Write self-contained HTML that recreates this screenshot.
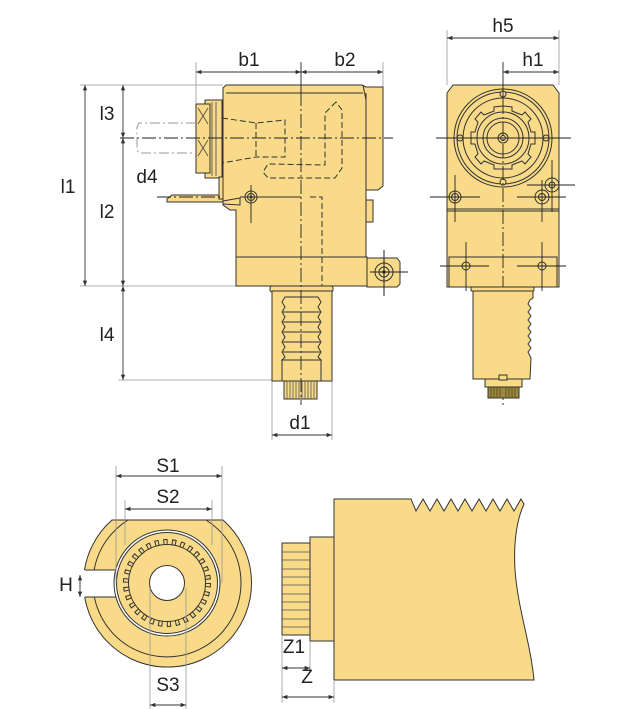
<!DOCTYPE html>
<html><head><meta charset="utf-8"><style>
html,body{margin:0;padding:0;background:#fff;width:634px;height:709px;overflow:hidden}
svg{display:block}
text{font-family:"Liberation Sans",sans-serif;font-size:19px;fill:#222;text-anchor:middle}
</style></head><body>
<svg width="634" height="709" viewBox="0 0 634 709" xmlns="http://www.w3.org/2000/svg">
<defs>
<marker id="a" viewBox="0 0 10 10" refX="10" refY="5" markerWidth="9" markerHeight="6" orient="auto-start-reverse"><path d="M0,1 L10,5 L0,9 z" fill="#333"/></marker>
</defs>
<g stroke="#333" stroke-width="1" fill="#F8DA88">

<!-- ============ SIDE VIEW ============ -->
<g stroke="#999" stroke-width="0.8" fill="none">
<line x1="80" y1="85" x2="223" y2="85"/>
<line x1="80" y1="286" x2="236" y2="286"/>
<line x1="118" y1="380" x2="272" y2="380"/>
<line x1="196" y1="62" x2="196" y2="103"/>
<line x1="383" y1="62" x2="383" y2="92"/>
<line x1="272" y1="380" x2="272" y2="440"/>
<line x1="332" y1="380" x2="332" y2="440"/>
</g>
<g stroke="#333" stroke-width="0.9" fill="none" marker-start="url(#a)" marker-end="url(#a)">
<line x1="196" y1="72" x2="301" y2="72"/>
<line x1="301" y1="72" x2="383" y2="72"/>
<line x1="85" y1="85" x2="85" y2="286"/>
<line x1="123" y1="85" x2="123" y2="138"/>
<line x1="123" y1="138" x2="123" y2="286"/>
<line x1="123" y1="286" x2="123" y2="380"/>
<line x1="272" y1="435" x2="332" y2="435"/>
</g>

<path d="M223,88 L226,85 L362,85 L366,87 L383,87 L383,186 L378,190 L366,190 L366,257 L236,257 L236,210 L230,210 L223,205 Z"/>
<line x1="226" y1="93" x2="363" y2="93"/>
<line x1="366" y1="93" x2="366" y2="190"/>
<line x1="363" y1="85" x2="366" y2="100"/>
<rect x="366" y="200" width="7" height="22"/>
<rect x="236" y="257" width="131" height="29"/>
<path d="M367,258 L397,258 L400,262 L400,284 L397,287 L367,287 Z"/>
<circle cx="384" cy="272" r="9"/><circle cx="384" cy="272" r="5"/><circle cx="384" cy="272" r="1.3" fill="#333"/>
<g stroke="#222" fill="none"><line x1="370" y1="272" x2="408" y2="272"/><line x1="384" y1="250" x2="384" y2="296"/></g>
<rect x="270" y="286" width="63" height="6" rx="2"/>
<rect x="272" y="291" width="60" height="90"/>
<path d="M285,297 L318,297 L321,302 L318,307 L321,312 L318,317 L321,322 L318,327 L321,332 L318,337 L321,342 L318,347 L321,352 L318,357 L321,360 L282,360 L285,357 L282,352 L285,347 L282,342 L285,337 L282,332 L285,327 L282,322 L285,317 L282,312 L285,307 L282,302 Z"/>
<g fill="none"><line x1="283" y1="312" x2="320" y2="312"/><line x1="283" y1="322" x2="320" y2="322"/><line x1="283" y1="332" x2="320" y2="332"/><line x1="283" y1="342" x2="320" y2="342"/><line x1="283" y1="352" x2="320" y2="352"/></g>
<rect x="282" y="360" width="39" height="21"/>
<rect x="284" y="381" width="33" height="18"/>
<g fill="none" stroke="#555" stroke-width="0.8"><line x1="287" y1="381" x2="287" y2="399"/><line x1="290" y1="381" x2="290" y2="399"/><line x1="293" y1="381" x2="293" y2="399"/><line x1="296" y1="381" x2="296" y2="399"/><line x1="299" y1="381" x2="299" y2="399"/><line x1="302" y1="381" x2="302" y2="399"/><line x1="305" y1="381" x2="305" y2="399"/><line x1="308" y1="381" x2="308" y2="399"/><line x1="311" y1="381" x2="311" y2="399"/><line x1="314" y1="381" x2="314" y2="399"/></g>
<rect x="205" y="100" width="17" height="78"/>
<rect x="196" y="104" width="14" height="69"/>
<g fill="none" stroke="#444" stroke-width="0.8">
<path d="M198,108 L208,124 M208,108 L198,124 M198,140 L208,156 M208,140 L198,156"/>
<line x1="212" y1="102" x2="212" y2="176"/><line x1="216" y1="102" x2="216" y2="176"/>
</g>
<path d="M223,195 L172,195 L167,199 L167,202 L223,202 Z"/>
<path d="M223,201 L240,198 L240,205 L223,204" fill="none"/>
<rect x="219" y="177" width="4" height="22"/>
<g fill="none" stroke="#333" stroke-width="1" stroke-dasharray="6,3">
<path d="M222,118 L256,123 L285,120 L285,157 L256,157 L222,163"/>
<path d="M256,123 L256,157"/>
<path d="M336,102 L325,113 L325,165 L268,164 L263,172 L268,178 L335,178 L342,168 L342,110 Z"/>
<path d="M310,197 L322,197 L322,286"/>
</g>
<g fill="none" stroke="#999" stroke-width="1" stroke-dasharray="10,3,2,3">
<path d="M196,123 L139,123 L137,127 L137,150 L139,153 L196,153"/>
</g>
<circle cx="251" cy="197" r="6"/><circle cx="251" cy="197" r="3.5"/><circle cx="251" cy="197" r="1" fill="#333"/>
<line x1="251" y1="185" x2="251" y2="223" fill="none"/>
<line x1="240" y1="197" x2="301" y2="197" fill="none"/>
<g fill="none" stroke="#222" stroke-width="0.9">
<line x1="301" y1="62" x2="301" y2="92"/>
<line x1="301" y1="92" x2="301" y2="405" stroke-dasharray="14,3,2,3"/>
<line x1="120" y1="138" x2="393" y2="138" stroke-dasharray="14,3,2,3"/>
<line x1="157" y1="197" x2="223" y2="197" stroke-dasharray="14,3,2,3"/>
</g>

<!-- ============ FRONT VIEW ============ -->
<g stroke="#999" stroke-width="0.8" fill="none">
<line x1="447" y1="30" x2="447" y2="85"/><line x1="559" y1="30" x2="559" y2="85"/>
</g>
<g stroke="#333" stroke-width="0.9" fill="none" marker-start="url(#a)" marker-end="url(#a)">
<line x1="447" y1="38" x2="559" y2="38"/>
<line x1="503" y1="72" x2="559" y2="72"/>
</g>
<path d="M453,85 L553,85 L559,93 L559,287 L447,287 L447,93 Z"/>
<line x1="447" y1="209" x2="559" y2="209"/><line x1="447" y1="211" x2="559" y2="211"/>
<rect x="449" y="257" width="108" height="30"/>
<circle cx="503" cy="138" r="49"/><circle cx="503" cy="138" r="46" fill="none"/>
<circle cx="503" cy="138" r="40" fill="none"/>
<path d="M503,106 L512,107 L512,111 L522,115 L525,112 L531,119 L528,122 L531,132 L535,132 L535,144 L531,144 L528,154 L531,157 L525,164 L522,161 L512,165 L512,169 L494,169 L494,165 L484,161 L481,164 L475,157 L478,154 L475,144 L471,144 L471,132 L475,132 L478,122 L475,119 L481,112 L484,115 L494,111 L494,107 Z" fill="none"/>
<circle cx="503" cy="138" r="26" fill="none"/><circle cx="503" cy="138" r="20" fill="none"/>
<circle cx="503" cy="138" r="16" fill="none"/><circle cx="503" cy="138" r="5" fill="none"/><circle cx="503" cy="138" r="2.5" fill="none"/>
<g fill="#F8DA88"><circle cx="503" cy="94" r="3"/><circle cx="503" cy="182" r="3"/><circle cx="460" cy="138" r="3"/><circle cx="546" cy="138" r="3"/></g>
<g fill="none"><circle cx="455" cy="197" r="6"/><circle cx="455" cy="197" r="3.5"/><circle cx="542" cy="197" r="7"/><circle cx="542" cy="197" r="3.5"/><circle cx="552" cy="185" r="7"/><circle cx="552" cy="185" r="3"/><circle cx="466" cy="266" r="4"/><circle cx="542" cy="266" r="4"/></g>
<g fill="none" stroke="#222" stroke-width="0.9">
<line x1="436" y1="138" x2="571" y2="138"/>
<line x1="503" y1="62" x2="503" y2="100"/>
<line x1="503" y1="100" x2="503" y2="405" stroke-dasharray="14,3,2,3"/>
<line x1="430" y1="197" x2="480" y2="197"/><line x1="455" y1="175" x2="455" y2="222"/>
<line x1="517" y1="197" x2="566" y2="197"/><line x1="542" y1="180" x2="542" y2="222"/>
<line x1="527" y1="185" x2="575" y2="185"/><line x1="552" y1="160" x2="552" y2="212"/>
<line x1="440" y1="266" x2="489" y2="266"/><line x1="466" y1="242" x2="466" y2="291"/>
<line x1="517" y1="266" x2="566" y2="266"/><line x1="542" y1="242" x2="542" y2="291"/>
</g>
<rect x="471" y="287" width="63" height="4" rx="1"/>
<path d="M473,291 L533,291 L533,298 L530,300 L528,304 L531,308 L528,312 L531,316 L528,320 L531,324 L528,328 L531,332 L528,336 L531,340 L528,344 L531,348 L528,352 L531,358 L530,379 L473,379 Z"/>
<rect x="485" y="379" width="37" height="8"/>
<rect x="499" y="375" width="8" height="5"/>
<rect x="488" y="387" width="31" height="11" fill="#9a8740"/>
<g stroke="#5a4d1e" stroke-width="0.8"><line x1="491" y1="387" x2="491" y2="398"/><line x1="494" y1="387" x2="494" y2="398"/><line x1="497" y1="387" x2="497" y2="398"/><line x1="500" y1="387" x2="500" y2="398"/><line x1="506" y1="387" x2="506" y2="398"/><line x1="509" y1="387" x2="509" y2="398"/><line x1="512" y1="387" x2="512" y2="398"/><line x1="515" y1="387" x2="515" y2="398"/></g>

<!-- ============ BOTTOM LEFT (end view) ============ -->
<path d="M112,520 L223,520 A84,84 0 1,1 112,520 Z"/>
<path d="M206,520 A74,74 0 1,1 128,520" fill="none"/>
<rect x="80" y="570" width="36" height="27" fill="#fff" stroke="none"/>
<path d="M85,570 L116,570 M85,597 L116,597" fill="none"/>
<circle cx="167" cy="583" r="53" fill="#fff"/>
<circle cx="167" cy="583" r="50.5"/>
<circle cx="167" cy="583" r="38.5" fill="none"/>
<circle cx="167" cy="583" r="41" fill="none" stroke="#333" stroke-width="6" stroke-dasharray="4.3,4.3"/>
<circle cx="167" cy="583" r="41" fill="none" stroke="#F8DA88" stroke-width="4" stroke-dasharray="2.3,6.3" stroke-dashoffset="-1"/>
<circle cx="167" cy="583" r="37.8" fill="#F8DA88" stroke="none"/>
<circle cx="167" cy="583" r="17.5" fill="#fff"/>
<g stroke="#999" stroke-width="0.8" fill="none">
<line x1="116" y1="466" x2="116" y2="583"/><line x1="222" y1="466" x2="222" y2="583"/>
<line x1="125" y1="500" x2="125" y2="545"/><line x1="212" y1="500" x2="212" y2="545"/>
<line x1="150" y1="588" x2="150" y2="709"/><line x1="186" y1="588" x2="186" y2="709"/>
</g>
<g stroke="#333" stroke-width="0.9" fill="none" marker-start="url(#a)" marker-end="url(#a)">
<line x1="116" y1="476" x2="222" y2="476"/>
<line x1="125" y1="509" x2="212" y2="509"/>
<line x1="150" y1="705" x2="186" y2="705"/>
<line x1="80" y1="575" x2="80" y2="597"/>
</g>

<!-- ============ BOTTOM RIGHT (shaft) ============ -->
<path d="M334,499 L411,499 L416,511 L423,499 L430,511 L437,499 L444,511 L451,499 L458,511 L465,499 L472,511 L479,499 L486,511 L493,499 L500,511 L507,499 L514,511 L521,499 L524,504 C519,515 513,535 515,570 C518,610 530,640 534,680 L334,680 Z"/>
<rect x="310" y="537" width="24" height="104"/>
<rect x="282" y="543" width="28" height="92"/>
<g fill="none" stroke="#555" stroke-width="0.8">
<line x1="282" y1="552" x2="310" y2="552"/><line x1="282" y1="560" x2="310" y2="560"/><line x1="282" y1="569" x2="310" y2="569"/><line x1="282" y1="577" x2="310" y2="577"/><line x1="282" y1="585" x2="310" y2="585"/><line x1="282" y1="594" x2="310" y2="594"/><line x1="282" y1="602" x2="310" y2="602"/><line x1="282" y1="610" x2="310" y2="610"/><line x1="282" y1="619" x2="310" y2="619"/><line x1="282" y1="627" x2="310" y2="627"/>
</g>
<g stroke="#999" stroke-width="0.8" fill="none">
<line x1="282" y1="635" x2="282" y2="703"/><line x1="310" y1="641" x2="310" y2="672"/><line x1="334" y1="680" x2="334" y2="703"/>
</g>
<g stroke="#333" stroke-width="0.9" fill="none" marker-start="url(#a)" marker-end="url(#a)">
<line x1="282" y1="668" x2="310" y2="668"/>
<line x1="282" y1="697" x2="334" y2="697"/>
</g>
</g>

<text x="249" y="66">b1</text>
<text x="345" y="66">b2</text>
<text x="107" y="120">l3</text>
<text x="147" y="183">d4</text>
<text x="68" y="193">l1</text>
<text x="107" y="218">l2</text>
<text x="107" y="341">l4</text>
<text x="300" y="429">d1</text>
<text x="503" y="32">h5</text>
<text x="533" y="66">h1</text>
<text x="168" y="472">S1</text>
<text x="168" y="503">S2</text>
<text x="168" y="691">S3</text>
<text x="66" y="591">H</text>
<text x="294" y="653">Z1</text>
<text x="307" y="683">Z</text>
</svg>
</body></html>
